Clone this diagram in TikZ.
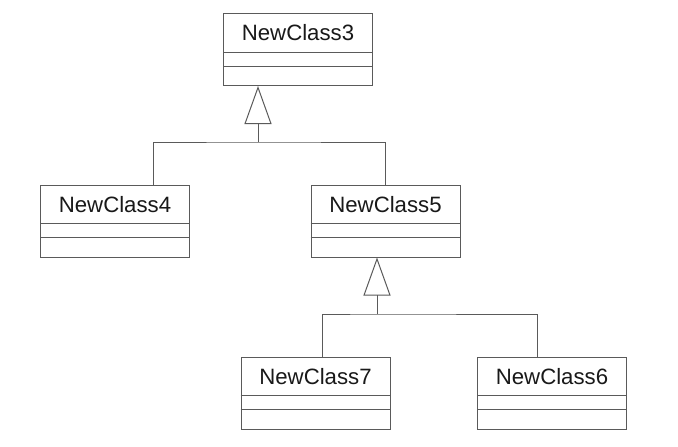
\documentclass[tikz,border=0pt]{standalone}
\usepackage{fontspec}
\setmainfont{Liberation Sans}
\usetikzlibrary{arrows.meta,calc}
\definecolor{linec}{RGB}{90,90,90}
\newcommand\umlclass[4]{%
  \node[classbox] (#1) at (#2,#3) {};
  \node[classname] (#1-name) at ($(#1.north)+(0,20)$) {#4};
  \draw[conn] ($(#1.north west)+(0,39)$) -- ($(#1.north east)+(0,39)$);
  \draw[conn] ($(#1.north west)+(0,53)$) -- ($(#1.north east)+(0,53)$);
}
\begin{document}
\begin{tikzpicture}[x=1pt,y=-1pt,
  classbox/.style={draw=linec, line width=1pt, minimum width=149pt, minimum height=72pt, inner sep=0pt, fill=white},
  classname/.style={font=\fontsize{22.2}{26}\selectfont, text=black!90, inner sep=0pt},
  conn/.style={draw=linec, line width=1pt},
  gen/.style={conn, -{Triangle[open, length=38pt, width=27pt, line width=1pt]}}]
\useasboundingbox[fill=white] (0,0) rectangle (678,447);

\umlclass{nc3}{298}{49.5}{NewClass3}
\umlclass{nc4}{115}{221}{NewClass4}
\umlclass{nc5}{385.5}{221}{NewClass5}
\umlclass{nc7}{315.5}{393}{NewClass7}
\umlclass{nc6}{552}{393}{NewClass6}

\coordinate (j1) at (258,142);
\coordinate (a4) at (153,0);
\coordinate (a5) at (385,0);
\draw[conn] (nc4.north -| a4) |- (j1) -| (nc5.north -| a5);
\draw[gen] (j1) -- (nc3.south -| j1);

\coordinate (j2) at (377,314);
\coordinate (a7) at (322,0);
\coordinate (a6) at (537,0);
\draw[conn] (nc7.north -| a7) |- (j2) -| (nc6.north -| a6);
\draw[gen] (j2) -- (nc5.south -| j2);
\end{tikzpicture}
\end{document}
